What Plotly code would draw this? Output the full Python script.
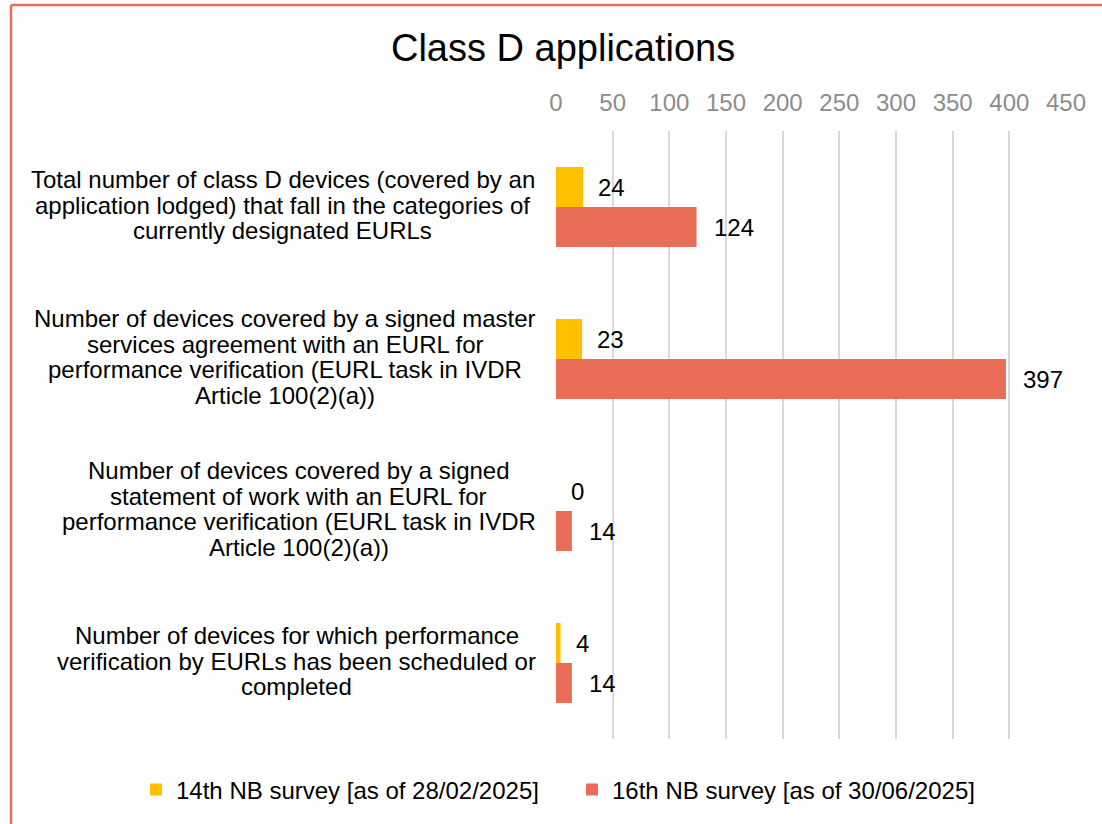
import plotly.graph_objects as go

categorias = [
    "Total number of class D devices (covered by an<br>application lodged) that fall in the categories of<br>currently designated EURLs",
    "Number of devices covered by a signed master<br>services agreement with an EURL for<br>performance verification (EURL task in IVDR<br>Article 100(2)(a))",
    "Number of devices covered by a signed<br>statement of work with an EURL for<br>performance verification (EURL task in IVDR<br>Article 100(2)(a))",
    "Number of devices for which performance<br>verification by EURLs has been scheduled or<br>completed",
]
claves = ["c1", "c2", "c3", "c4"]
encuesta_14 = [24, 23, 0, 4]
encuesta_16 = [124, 397, 14, 14]
nombre_14 = "14th NB survey [as of 28/02/2025]"
nombre_16 = "16th NB survey [as of 30/06/2025]"
ticks_x = [0, 50, 100, 150, 200, 250, 300, 350, 400, 450]

AMARILLO = "#FFC000"
ROJO = "#E96D56"
FUENTE = "Liberation Sans, Arial, sans-serif"
TAM = 24
INTERLINEA = 25.7

# anchos aproximados de Arial (por 1000 em), para centrar cada bloque de texto
ANCHOS = {" ": 278, "(": 333, ")": 333, ".": 278, "/": 278, "a": 556, "b": 556, "c": 500,
          "d": 556, "e": 556, "f": 278, "g": 556, "h": 556, "i": 222, "j": 222, "k": 500,
          "l": 222, "m": 833, "n": 556, "o": 556, "p": 556, "q": 556, "r": 333, "s": 500,
          "t": 278, "u": 556, "v": 500, "w": 722, "x": 500, "y": 500, "z": 500,
          "A": 667, "C": 722, "D": 722, "E": 667, "I": 278, "L": 556, "R": 722,
          "T": 611, "U": 722, "V": 667, "N": 722}


def ancho(linea):
    return sum(ANCHOS.get(c, 556) for c in linea) * TAM / 1000


fig = go.Figure()
fig.add_trace(go.Bar(y=claves, x=encuesta_14, orientation="h", name=nombre_14, legend="legend",
                     showlegend=True, marker=dict(color=AMARILLO, line=dict(width=0))))
fig.add_trace(go.Bar(y=claves, x=encuesta_16, orientation="h", name=nombre_16, legend="legend2",
                     showlegend=True, marker=dict(color=ROJO, line=dict(width=0))))

anotaciones = []
# etiquetas de las categorias: una anotacion por linea para imitar el interlineado del original
for k, texto in zip(claves, categorias):
    lineas = texto.split("<br>")
    centro = 536 - max(ancho(l) for l in lineas) / 2
    n = len(lineas)
    for i, linea in enumerate(lineas):
        anotaciones.append(dict(x=(centro - 556) / 510, y=k, xref="paper", yref="y", text=linea,
                                showarrow=False, xanchor="center",
                                yshift=2 + ((n - 1) / 2 - i) * INTERLINEA,
                                font=dict(size=TAM, color="black", family=FUENTE)))
# valores de las barras
for k, v in zip(claves, encuesta_14):
    anotaciones.append(dict(x=v, y=k, xref="x", yref="y", text=str(v), showarrow=False,
                            xanchor="left", xshift=13, yshift=20,
                            font=dict(size=TAM, color="black", family=FUENTE)))
for k, v in zip(claves, encuesta_16):
    anotaciones.append(dict(x=v, y=k, xref="x", yref="y", text=str(v), showarrow=False,
                            xanchor="left", xshift=15, yshift=-20,
                            font=dict(size=TAM, color="black", family=FUENTE)))

leyenda = dict(orientation="h", xref="container", yref="container", xanchor="left",
               y=(824 - 790) / 824, yanchor="middle", font=dict(size=TAM, color="black"),
               bgcolor="rgba(0,0,0,0)")

fig.update_layout(
    width=1102, height=824,
    showlegend=True,
    margin=dict(l=556, r=36, t=131, b=85),
    paper_bgcolor="white", plot_bgcolor="white",
    barmode="group", bargap=0.474, bargroupgap=0,
    font=dict(family=FUENTE, color="black"),
    title=dict(text="Class D applications", x=0.511, xanchor="center",
               y=1 - 48 / 824, yanchor="middle", font=dict(size=38, color="black")),
    xaxis=dict(range=[0, 450], side="top", tickvals=ticks_x, showgrid=True,
               gridcolor="#D9D9D9", gridwidth=1.5, zeroline=False, showline=False,
               tickfont=dict(size=TAM, color="#8C8C8C"), ticklabelstandoff=14, fixedrange=True),
    yaxis=dict(autorange="reversed", showticklabels=False, showgrid=False,
               zeroline=False, showline=False, fixedrange=True),
    legend=dict(leyenda, x=(178 - 42) / 1102),
    legend2=dict(leyenda, x=(614 - 42) / 1102),
    annotations=anotaciones,
    shapes=[
        dict(type="line", xref="paper", yref="paper", x0=(11 - 556) / 510, x1=(11 - 556) / 510,
             y0=(739 - 5) / 608, y1=(739 - 830) / 608, line=dict(color=ROJO, width=2.5)),
        dict(type="line", xref="paper", yref="paper", x0=(11 - 556) / 510, x1=(1110 - 556) / 510,
             y0=(739 - 5) / 608, y1=(739 - 5) / 608, line=dict(color=ROJO, width=2.5)),
    ],
)

fig.write_html("out.html", config={"displayModeBar": False},
               post_script="document.body.style.margin='0';document.body.style.padding='0';")
